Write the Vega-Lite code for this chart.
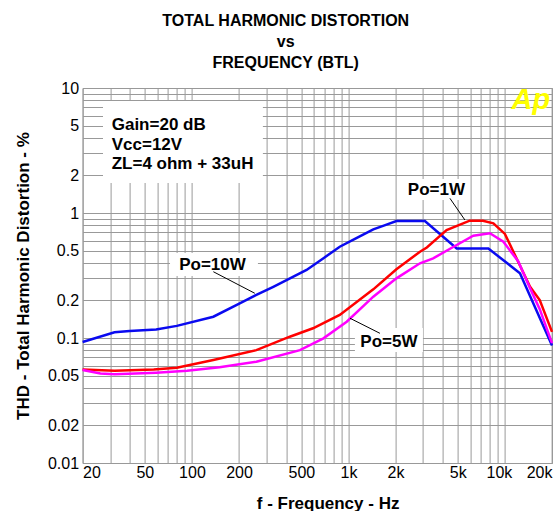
{
  "$schema": "https://vega.github.io/schema/vega-lite/v6.json",
  "width": 469.4,
  "height": 375,
  "autosize": {"type": "none"},
  "padding": {"left": 82.6, "top": 88, "right": 7, "bottom": 48},
  "background": "white",
  "title": {
    "text": ["TOTAL HARMONIC DISTORTION", "vs", "FREQUENCY (BTL)"],
    "font": "Liberation Sans",
    "fontSize": 16,
    "fontWeight": "bold",
    "color": "black",
    "lineHeight": 21,
    "anchor": "middle",
    "frame": "bounds",
    "offset": 9
  },
  "config": {
    "view": {"stroke": "#999999", "strokeWidth": 1},
    "font": "Liberation Sans"
  },
  "datasets": {
    "curves": [
      {"series": "Po=10W", "f": 20, "v": 0.093},
      {"series": "Po=10W", "f": 32, "v": 0.111},
      {"series": "Po=10W", "f": 40, "v": 0.114},
      {"series": "Po=10W", "f": 59, "v": 0.117},
      {"series": "Po=10W", "f": 80, "v": 0.125},
      {"series": "Po=10W", "f": 137, "v": 0.148},
      {"series": "Po=10W", "f": 202, "v": 0.189},
      {"series": "Po=10W", "f": 258, "v": 0.221},
      {"series": "Po=10W", "f": 331, "v": 0.257},
      {"series": "Po=10W", "f": 540, "v": 0.35},
      {"series": "Po=10W", "f": 700, "v": 0.439},
      {"series": "Po=10W", "f": 880, "v": 0.537},
      {"series": "Po=10W", "f": 1100, "v": 0.62},
      {"series": "Po=10W", "f": 1442, "v": 0.74},
      {"series": "Po=10W", "f": 1700, "v": 0.797},
      {"series": "Po=10W", "f": 2026, "v": 0.863},
      {"series": "Po=10W", "f": 3080, "v": 0.863},
      {"series": "Po=10W", "f": 4920, "v": 0.52},
      {"series": "Po=10W", "f": 7840, "v": 0.52},
      {"series": "Po=10W", "f": 12480, "v": 0.33},
      {"series": "Po=10W", "f": 20000, "v": 0.087},
      {"series": "Po=1W", "f": 20, "v": 0.056},
      {"series": "Po=1W", "f": 32, "v": 0.0547},
      {"series": "Po=1W", "f": 57, "v": 0.056},
      {"series": "Po=1W", "f": 80, "v": 0.0578},
      {"series": "Po=1W", "f": 137, "v": 0.0667},
      {"series": "Po=1W", "f": 258, "v": 0.08},
      {"series": "Po=1W", "f": 422, "v": 0.1024},
      {"series": "Po=1W", "f": 594, "v": 0.1196},
      {"series": "Po=1W", "f": 880, "v": 0.153},
      {"series": "Po=1W", "f": 1442, "v": 0.245},
      {"series": "Po=1W", "f": 2026, "v": 0.355},
      {"series": "Po=1W", "f": 2866, "v": 0.49},
      {"series": "Po=1W", "f": 3170, "v": 0.53},
      {"series": "Po=1W", "f": 4240, "v": 0.73},
      {"series": "Po=1W", "f": 5960, "v": 0.868},
      {"series": "Po=1W", "f": 7240, "v": 0.868},
      {"series": "Po=1W", "f": 8440, "v": 0.827},
      {"series": "Po=1W", "f": 10000, "v": 0.68},
      {"series": "Po=1W", "f": 12480, "v": 0.38},
      {"series": "Po=1W", "f": 14480, "v": 0.257},
      {"series": "Po=1W", "f": 16700, "v": 0.201},
      {"series": "Po=1W", "f": 20000, "v": 0.112},
      {"series": "Po=5W", "f": 20, "v": 0.0555},
      {"series": "Po=5W", "f": 26, "v": 0.052},
      {"series": "Po=5W", "f": 32, "v": 0.0512},
      {"series": "Po=5W", "f": 59, "v": 0.0528},
      {"series": "Po=5W", "f": 93, "v": 0.0547},
      {"series": "Po=5W", "f": 150, "v": 0.0583},
      {"series": "Po=5W", "f": 258, "v": 0.0646},
      {"series": "Po=5W", "f": 490, "v": 0.08},
      {"series": "Po=5W", "f": 692, "v": 0.0994},
      {"series": "Po=5W", "f": 975, "v": 0.135},
      {"series": "Po=5W", "f": 1442, "v": 0.214},
      {"series": "Po=5W", "f": 2026, "v": 0.3},
      {"series": "Po=5W", "f": 2866, "v": 0.396},
      {"series": "Po=5W", "f": 3480, "v": 0.434},
      {"series": "Po=5W", "f": 4920, "v": 0.555},
      {"series": "Po=5W", "f": 6280, "v": 0.658},
      {"series": "Po=5W", "f": 8020, "v": 0.688},
      {"series": "Po=5W", "f": 9780, "v": 0.589},
      {"series": "Po=5W", "f": 12180, "v": 0.41},
      {"series": "Po=5W", "f": 14480, "v": 0.25},
      {"series": "Po=5W", "f": 16700, "v": 0.17},
      {"series": "Po=5W", "f": 20000, "v": 0.091}
    ],
    "boxes": [
      {"f": 27, "f2": 284, "v": 1.74, "v2": 7.87},
      {"f": 72.4, "f2": 264, "v": 0.313, "v2": 0.479},
      {"f": 2198, "f2": 5800, "v": 1.27, "v2": 1.87},
      {"f": 1100, "f2": 2993, "v": 0.0773, "v2": 0.12}
    ],
    "leaders": [
      {"f": 137, "f2": 252, "v": 0.339, "v2": 0.228},
      {"f": 4452, "f2": 5552, "v": 1.311, "v2": 0.879},
      {"f": 1024, "f2": 1590, "v": 0.1438, "v2": 0.109}
    ],
    "labels": [
      {"f": 135.2, "v": 0.35, "text": "Po=10W"},
      {"f": 3650, "v": 1.393, "text": "Po=1W"},
      {"f": 1814, "v": 0.0852, "text": "Po=5W"}
    ],
    "info": [
      {"f": 30.7, "v": 4.61, "text": "Gain=20 dB\nVcc=12V\nZL=4 ohm + 33uH"}
    ],
    "logo": [
      {"f": 14660, "v": 6.79, "text": "Ap"}
    ]
  },
  "encoding": {
    "x": {
      "field": "f",
      "type": "quantitative",
      "scale": {"type": "log", "domain": [20, 20000], "nice": false},
      "axis": {
        "title": "f - Frequency - Hz",
        "titleFont": "Liberation Sans",
        "titleFontSize": 17,
        "titleFontWeight": "bold",
        "titleColor": "black",
        "titlePadding": 15,
        "titleX": 245,
        "values": [20, 30, 40, 50, 60, 70, 80, 90, 100, 200, 300, 400, 500, 600, 700, 800, 900, 1000, 2000, 3000, 4000, 5000, 6000, 7000, 8000, 9000, 10000, 20000],
        "labelExpr": "indexof([20,50,100,200,500,1000,2000,5000,10000,20000], datum.value) >= 0 ? (datum.value >= 1000 ? (datum.value / 1000) + 'k' : '' + datum.value) : ''",
        "labelFlush": true,
        "labelOverlap": false,
        "labelFont": "Liberation Sans",
        "labelFontSize": 16,
        "labelColor": "black",
        "labelPadding": 1,
        "labelOffset": {"condition": {"test": "datum.value == 10000", "value": -6}, "value": 0},
        "ticks": false,
        "tickSize": 0,
        "domain": false,
        "grid": true,
        "gridColor": "#999999",
        "gridWidth": 1,
        "gridOpacity": 1
      }
    },
    "y": {
      "field": "v",
      "type": "quantitative",
      "scale": {"type": "log", "domain": [0.01, 10], "nice": false},
      "axis": {
        "title": "THD - Total Harmonic Distortion - %",
        "titleFont": "Liberation Sans",
        "titleFontSize": 17,
        "titleFontWeight": "bold",
        "titleColor": "black",
        "titlePadding": 15,
        "values": [0.01, 0.02, 0.03, 0.04, 0.05, 0.06, 0.07, 0.08, 0.09, 0.1, 0.2, 0.3, 0.4, 0.5, 0.6, 0.7, 0.8, 0.9, 1, 2, 3, 4, 5, 6, 7, 8, 9, 10],
        "labelExpr": "indexof([0.01,0.02,0.05,0.1,0.2,0.5,1,2,5,10], datum.value) >= 0 ? '' + datum.value : ''",
        "labelOverlap": false,
        "labelFont": "Liberation Sans",
        "labelFontSize": 16,
        "labelColor": "black",
        "labelPadding": 4,
        "ticks": false,
        "tickSize": 0,
        "domain": false,
        "grid": true,
        "gridColor": "#999999",
        "gridWidth": 1,
        "gridOpacity": 1
      }
    }
  },
  "layer": [
    {
      "data": {"name": "boxes"},
      "mark": {"type": "rect", "fill": "white", "strokeWidth": 0},
      "encoding": {
        "x2": {"field": "f2"},
        "y2": {"field": "v2"}
      }
    },
    {
      "data": {"name": "curves"},
      "mark": {"type": "line", "strokeWidth": 2.5, "interpolate": "linear"},
      "encoding": {
        "color": {
          "field": "series",
          "type": "nominal",
          "scale": {"domain": ["Po=1W", "Po=5W", "Po=10W"], "range": ["#ff0000", "#ff00ff", "#0a0af0"]},
          "legend": null
        }
      }
    },
    {
      "data": {"name": "leaders"},
      "mark": {"type": "rule", "color": "black", "strokeWidth": 1},
      "encoding": {
        "x2": {"field": "f2"},
        "y2": {"field": "v2"}
      }
    },
    {
      "data": {"name": "labels"},
      "mark": {"type": "text", "font": "Liberation Sans", "fontSize": 17, "fontWeight": "bold", "color": "black", "align": "center", "baseline": "alphabetic"},
      "encoding": {
        "text": {"field": "text", "type": "nominal"}
      }
    },
    {
      "data": {"name": "info"},
      "mark": {"type": "text", "font": "Liberation Sans", "fontSize": 17, "fontWeight": "bold", "color": "black", "align": "left", "baseline": "alphabetic", "lineBreak": "\n", "lineHeight": 19.5},
      "encoding": {
        "text": {"field": "text", "type": "nominal"}
      }
    },
    {
      "data": {"name": "logo"},
      "mark": {"type": "text", "font": "Liberation Sans", "fontSize": 29, "fontWeight": "bold", "fontStyle": "italic", "color": "#ffff00", "align": "center", "baseline": "alphabetic"},
      "encoding": {
        "text": {"field": "text", "type": "nominal"}
      }
    }
  ]
}
